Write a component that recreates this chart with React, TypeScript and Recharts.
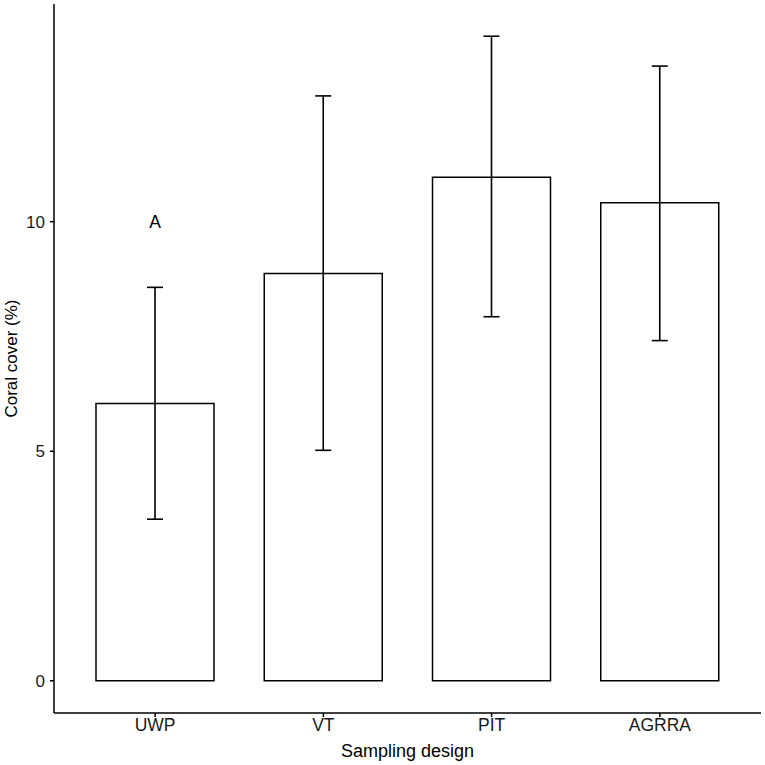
import React from 'react';
import {
    BarChart,
    Bar,
    XAxis,
    YAxis,
    ErrorBar,
    ReferenceDot,
} from 'recharts';

const designs = ['UWP', 'VT', 'PIT', 'AGRRA'];
const meanCover = [6.04, 8.87, 10.97, 10.41];
const lowerCover = [3.52, 5.02, 7.93, 7.41];
const upperCover = [8.57, 12.74, 14.04, 13.39];
const yTicks = [0, 5, 10];

const data = designs.map((design, i) => ({
    design,
    cover: meanCover[i],
    err: [meanCover[i] - lowerCover[i], upperCover[i] - meanCover[i]],
}));

const font = '"Liberation Sans", Arial, Helvetica, sans-serif';

const App: React.FC = () => {
    return (
        <div style={{ position: 'absolute', left: 0, top: 0, width: 765, height: 765, background: 'white' }}>
            <BarChart
                width={765}
                height={765}
                data={data}
                margin={{ top: 4, right: 4, left: 0, bottom: 0 }}
                style={{ fontFamily: font }}
            >
                <XAxis
                    dataKey="design"
                    height={52}
                    padding={{ left: 17, right: 17 }}
                    axisLine={{ stroke: '#000', strokeWidth: 1.5 }}
                    tickLine={{ stroke: '#000', strokeWidth: 1.5 }}
                    tickSize={4}
                    tick={{ fill: '#1a1a1a', fontSize: 17.5, fontFamily: font }}
                    label={{ value: 'Sampling design', position: 'insideBottom', offset: 8, fill: '#000', fontSize: 18, fontFamily: font }}
                />
                <YAxis
                    type="number"
                    domain={[-0.702, 14.742]}
                    ticks={yTicks}
                    width={54}
                    axisLine={{ stroke: '#000', strokeWidth: 1.5 }}
                    tickLine={{ stroke: '#000', strokeWidth: 1.5 }}
                    tickSize={4}
                    tickMargin={5}
                    tick={{ fill: '#1a1a1a', fontSize: 17, fontFamily: font }}
                    label={{ value: 'Coral cover (%)', angle: -90, position: 'insideLeft', offset: 11, textAnchor: 'middle', fill: '#000', fontSize: 17, fontFamily: font }}
                />
                <Bar
                    dataKey="cover"
                    barSize={118}
                    fill="#fff"
                    stroke="#000"
                    strokeWidth={1.5}
                    isAnimationActive={false}
                >
                    <ErrorBar dataKey="err" width={8} stroke="#000" strokeWidth={1.6} isAnimationActive={false} />
                </Bar>
                <ReferenceDot
                    x="UWP"
                    y={10}
                    r={1}
                    fill="none"
                    stroke="none"
                    label={{ value: 'A', position: 'center', fill: '#000', fontSize: 17.5, fontFamily: font }}
                />
            </BarChart>
        </div>
    );
};

export default App;
